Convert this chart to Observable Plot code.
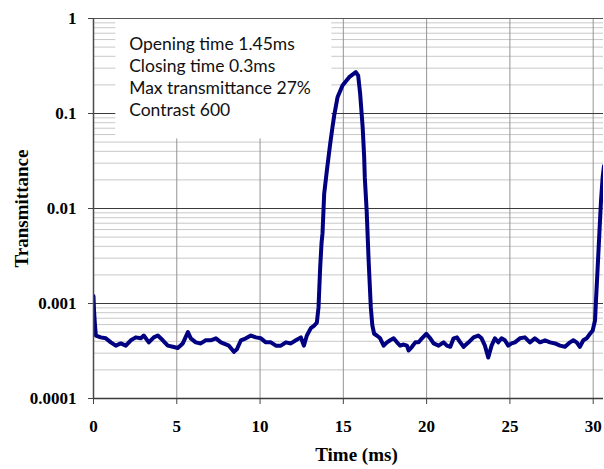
<!DOCTYPE html>
<html>
<head>
<meta charset="utf-8">
<script src="https://cdn.jsdelivr.net/npm/d3@7"></script>
<script src="https://cdn.jsdelivr.net/npm/@observablehq/plot@0.6"></script>
<style>
  html, body { margin: 0; padding: 0; background: #ffffff; }
  #chart { width: 604px; height: 469px; overflow: hidden; }
</style>
</head>
<body>
<div id="chart"></div>
<script>
// ---- Data ----
const timeMs = [
  0.00, 0.03, 0.08, 0.14, 0.44, 0.74, 1.04, 1.34, 1.64, 1.94, 2.24, 2.54, 2.84, 3.02, 3.32, 3.62, 3.86,
  4.16, 4.46, 4.76, 5.06, 5.36, 5.67, 5.84, 6.14, 6.44, 6.74, 7.04, 7.35, 7.65, 8.13, 8.43, 8.61, 8.85,
  9.15, 9.45, 9.75, 10.05, 10.35, 10.65, 10.95, 11.25, 11.55, 11.85, 12.15, 12.45, 12.63, 12.81, 13.05,
  13.23, 13.41, 13.51, 13.61, 13.69, 13.75, 13.85, 14.01, 14.21, 14.35, 14.45, 14.65, 14.95, 15.35, 15.75,
  15.89, 16.01, 16.16, 16.25, 16.29, 16.40, 16.52, 16.65, 16.74, 16.85, 17.01, 17.21, 17.42, 17.62, 17.81,
  18.02, 18.22, 18.41, 18.62, 18.82, 18.92, 19.12, 19.32, 19.52, 19.72, 19.98, 20.22, 20.42, 20.72, 21.02,
  21.22, 21.42, 21.62, 21.82, 22.02, 22.22, 22.52, 22.82, 23.10, 23.30, 23.50, 23.70, 23.90, 24.10, 24.30,
  24.50, 24.70, 24.90, 25.10, 25.30, 25.60, 25.90, 26.20, 26.50, 26.81, 27.11, 27.41, 27.71, 28.01, 28.31,
  28.61, 28.81, 29.01, 29.20, 29.41, 29.61, 29.81, 29.97, 30.11, 30.17, 30.27, 30.37, 30.47, 30.57, 30.65
];
const transmittance = [
  0.0012, 0.00085, 0.00062, 0.00046, 0.00044, 0.00043, 0.00039, 0.00036, 0.00038, 0.00036, 0.00041, 0.00044,
  0.00043, 0.00046, 0.00039, 0.00044, 0.00046, 0.00041, 0.00036, 0.00035, 0.00034, 0.00038, 0.00050, 0.00043,
  0.00039, 0.00038, 0.00041, 0.00041, 0.00043, 0.00039, 0.00036, 0.00031, 0.00033, 0.00041, 0.00043, 0.00046,
  0.00044, 0.00043, 0.00039, 0.00039, 0.00036, 0.00036, 0.00039, 0.00038, 0.00041, 0.00044, 0.00036, 0.00046,
  0.00055, 0.00058, 0.00063, 0.00091, 0.0024, 0.0043, 0.0055, 0.0143, 0.025, 0.048, 0.072, 0.095, 0.148,
  0.197, 0.241, 0.272, 0.251, 0.161, 0.072, 0.035, 0.021, 0.0095, 0.0028, 0.00091, 0.00059, 0.00048, 0.00046,
  0.00043, 0.00036, 0.00039, 0.00041, 0.00043, 0.00039, 0.00036, 0.00037, 0.00036, 0.00032, 0.00035, 0.00039,
  0.00039, 0.00043, 0.00048, 0.00043, 0.00038, 0.00036, 0.00039, 0.00036, 0.00035, 0.00043, 0.00044, 0.00039,
  0.00035, 0.00039, 0.00044, 0.00046, 0.00043, 0.00036, 0.00027, 0.00036, 0.00043, 0.00039, 0.00043, 0.00041,
  0.00036, 0.00038, 0.00039, 0.00043, 0.00044, 0.00039, 0.00043, 0.00039, 0.00041, 0.00039, 0.00038, 0.00036,
  0.00035, 0.00039, 0.00041, 0.00039, 0.00035, 0.00041, 0.00043, 0.00048, 0.00052, 0.00066, 0.00108, 0.0024,
  0.0054, 0.0121, 0.0213, 0.028
];
const xTicks = [0, 5, 10, 15, 20, 25, 30];
const xTickLabels = ["0", "5", "10", "15", "20", "25", "30"];
const yTicks = [0.0001, 0.001, 0.01, 0.1, 1];
const yTickLabels = ["0.0001", "0.001", "0.01", "0.1", "1"];
const annotationLines = ["Opening time 1.45ms", "Closing time 0.3ms", "Max transmittance 27%", "Contrast 600"];
const xTitle = "Time (ms)";
const yTitle = "Transmittance";

// ---- Derived tables ----
const data = timeMs.map((t, i) => ({t, v: transmittance[i]}));
const minorY = [];
for (let e = -4; e < 0; e++) for (let m = 2; m <= 9; m++) minorY.push(m * Math.pow(10, e));
const xLabelOf = new Map(xTicks.map((d, i) => [d, xTickLabels[i]]));
const yLabelOf = new Map(yTicks.map((d, i) => [d, yTickLabels[i]]));

const serif = "'Liberation Serif', 'Times New Roman', serif";
const sans = "Lato, 'Open Sans', sans-serif";

const chart = Plot.plot({
  width: 604,
  height: 469,
  marginLeft: 93,
  marginRight: 1,
  marginTop: 18,
  marginBottom: 71,
  style: {fontFamily: serif, fontSize: "17px", fontWeight: "bold", color: "#000", background: "#fff"},
  x: {domain: [0, 30.62], label: null},
  y: {type: "log", domain: [0.0001, 1], label: null},
  marks: [
    Plot.ruleY(minorY, {stroke: "#c8c8c8", strokeWidth: 1}),
    Plot.ruleX(xTicks.filter(d => d > 0), {stroke: "#949494", strokeWidth: 1}),
    Plot.ruleY(yTicks.filter(d => d < 1), {stroke: "#3a3a3a", strokeWidth: 1}),
    Plot.rect([{x1: 1.34, x2: 14.31, y1: 0.054, y2: 0.985}], {x1: "x1", x2: "x2", y1: "y1", y2: "y2", fill: "#ffffff"}),
    Plot.ruleY([1], {stroke: "#555", strokeWidth: 1.2}),
    Plot.text([annotationLines.join("\n")], {
      x: 2.14, y: 0.68, text: d => d, textAnchor: "start", lineAnchor: "top",
      lineHeight: 1.26, fontFamily: sans, fontSize: 17.5, fontWeight: "normal", fill: "#111"
    }),
    Plot.line(data, {x: "t", y: "v", stroke: "#000080", strokeWidth: 4, strokeLinejoin: "round", strokeLinecap: "round", clip: true}),
    Plot.ruleX([0], {stroke: "#4a4a4a", strokeWidth: 1.5}),
    Plot.ruleY([0.0001], {stroke: "#3a3a3a", strokeWidth: 1.5}),
    Plot.axisX({ticks: xTicks, tickFormat: d => xLabelOf.get(d), tickSize: 6, tickPadding: 15, stroke: "#444"}),
    Plot.axisY({ticks: yTicks, tickFormat: d => yLabelOf.get(d), tickSize: 5, tickPadding: 12, stroke: "#444"}),
    Plot.text([yTitle], {frameAnchor: "left", textAnchor: "middle", dx: -72, rotate: -90, text: d => d, fontFamily: serif, fontSize: 19, fontWeight: "bold", fill: "#000"}),
    Plot.text([xTitle], {frameAnchor: "bottom", textAnchor: "middle", dx: 8, dy: 62, text: d => d, fontFamily: serif, fontSize: 19, fontWeight: "bold", fill: "#000"})
  ]
});
document.getElementById("chart").appendChild(chart);
</script>
</body>
</html>
